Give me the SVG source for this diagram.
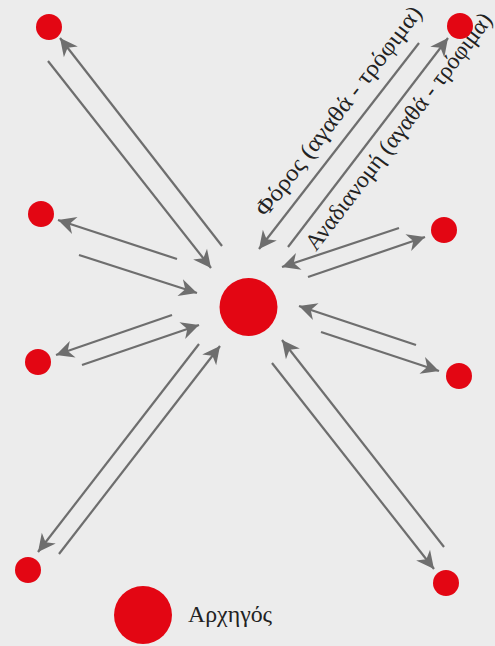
<svg xmlns="http://www.w3.org/2000/svg" width="495" height="646" viewBox="0 0 495 646">
<style>
.node{fill:#e30613}
.conn line{stroke:#6e6e6e;stroke-width:2.2;fill:none;marker-end:url(#ah)}
.lbl{font-family:"Liberation Serif","DejaVu Serif",serif;fill:#222}
</style>
<defs>
<marker id="ah" markerUnits="userSpaceOnUse" markerWidth="20" markerHeight="20" viewBox="-16 -8 17 16" refX="0" refY="0" orient="auto">
<path d="M0,0 L-15,-7.5 L-10.5,0 L-15,7.5 Z" fill="#6e6e6e"/>
</marker>
</defs>
<rect width="495" height="646" fill="#ececec"/>
<g id="connectors" class="conn">
<line x1="48" y1="61" x2="211" y2="268"/>
<line x1="222" y1="246" x2="60" y2="38"/>
<line x1="177" y1="259" x2="58" y2="220"/>
<line x1="79" y1="255" x2="197" y2="293"/>
<line x1="172" y1="315" x2="56" y2="355"/>
<line x1="82" y1="365" x2="199" y2="325"/>
<line x1="199" y1="344" x2="38" y2="552"/>
<line x1="59" y1="554" x2="220" y2="346"/>
<line x1="419" y1="43" x2="259" y2="249"/>
<line x1="288" y1="247" x2="448" y2="38"/>
<line x1="399" y1="228" x2="282" y2="267"/>
<line x1="308" y1="277" x2="425" y2="237"/>
<line x1="416" y1="345" x2="299" y2="306"/>
<line x1="321" y1="332" x2="439" y2="371"/>
<line x1="444" y1="547" x2="282" y2="340"/>
<line x1="272" y1="363" x2="434" y2="569"/>
</g>
<g id="center"><circle class="node" cx="248.5" cy="307" r="29"/></g>
<g id="n-tl"><circle class="node" cx="49" cy="27" r="13"/></g>
<g id="n-tr"><circle class="node" cx="460" cy="26" r="13"/></g>
<g id="n-l1"><circle class="node" cx="41" cy="214" r="13"/></g>
<g id="n-r1"><circle class="node" cx="444" cy="230" r="13"/></g>
<g id="n-l2"><circle class="node" cx="38" cy="362" r="13"/></g>
<g id="n-r2"><circle class="node" cx="459" cy="376" r="13"/></g>
<g id="n-bl"><circle class="node" cx="28" cy="570" r="13"/></g>
<g id="n-br"><circle class="node" cx="446" cy="583" r="13"/></g>
<g id="labels">
<text class="lbl" font-size="23.5" textLength="258" lengthAdjust="spacingAndGlyphs" transform="translate(266,218) rotate(-52.5)">Φόρος (αγαθά - τρόφιμα)</text>
<text class="lbl" font-size="23.5" textLength="292" lengthAdjust="spacingAndGlyphs" transform="translate(316,252) rotate(-52.6)">Αναδιανομή (αγαθά - τρόφιμα)</text>
</g>
<g id="legend">
<circle class="node" cx="143" cy="615" r="29"/>
<text class="lbl" x="188" y="622" font-size="23.5" textLength="84" lengthAdjust="spacingAndGlyphs">Αρχηγός</text>
</g>
</svg>
